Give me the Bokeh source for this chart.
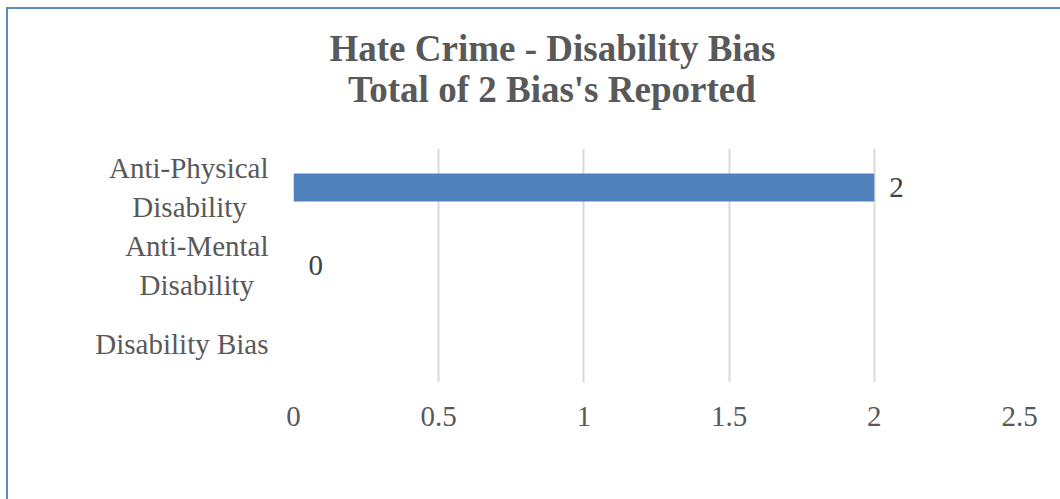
from bokeh.plotting import figure
from bokeh.models import ColumnDataSource, FactorRange, Range1d, LabelSet, FixedTicker, Title
from bokeh.embed import file_html
from bokeh.resources import INLINE

NB = "\u00a0"
categories = ["Anti-Physical\n" + NB * 3 + "Disability" + NB * 3,
              "Anti-Mental\n" + NB * 2 + "Disability" + NB * 2,
              "Disability Bias"]
values = [2, 0, None]
value_labels = ["2", "0", ""]
x_ticks = [0, 0.5, 1, 1.5, 2, 2.5]
title_lines = ["Hate Crime - Disability Bias", "Total of 2 Bias's Reported"]

FONT = "Liberation Serif"
W, H = 1054, 492

p = figure(width=W, height=H, output_backend="svg", toolbar_location=None,
           y_range=FactorRange(factors=list(reversed(categories))),
           x_range=Range1d(0, 2.5),
           min_border_left=285, min_border_right=43, min_border_top=139, min_border_bottom=119,
           styles={"margin-left": "6px", "margin-top": "7px",
                   "border-left": "2px solid #5B8BC9", "border-top": "2px solid #5B8BC9",
                   "box-sizing": "border-box"})
p.outline_line_color = None
p.background_fill_color = "white"
p.border_fill_color = "white"

src = ColumnDataSource(dict(cat=categories[:2], val=values[:2], lab=value_labels[:2]))
p.hbar(y="cat", right="val", left=0, height=0.36, source=src,
       fill_color="#4F81BD", line_color=None)

p.add_layout(LabelSet(x="val", y="cat", text="lab", source=src, x_offset=15,
                      text_baseline="middle", text_align="left",
                      text_font=FONT, text_font_size="29px", text_color="#404040"))

p.xaxis.ticker = FixedTicker(ticks=x_ticks)
p.xaxis.axis_line_color = None
p.xaxis.major_tick_line_color = None
p.xaxis.minor_tick_line_color = None
p.xaxis.major_label_text_font = FONT
p.xaxis.major_label_text_font_size = "29px"
p.xaxis.major_label_text_color = "#595959"
p.xaxis.major_label_standoff = 18

p.yaxis.axis_line_color = None
p.yaxis.major_tick_line_color = None
p.yaxis.major_label_text_font = FONT
p.yaxis.major_label_text_font_size = "29px"
p.yaxis.major_label_text_color = "#595959"
p.yaxis.major_label_standoff = 19

p.xgrid.grid_line_color = "#D9D9D9"
p.xgrid.grid_line_width = 2
p.ygrid.grid_line_color = None

# spacer between the title block and the plot area
p.add_layout(Title(text=NB, text_font_size="1px", standoff=36, text_color="white"), "above")
p.add_layout(Title(text=title_lines[0] + "\n" + NB * 2 + title_lines[1],
                   align="left", offset=36, standoff=0,
                   text_font=FONT, text_font_size="37px", text_font_style="bold",
                   text_color="#595959"), "above")

open("out.html", "w").write(file_html(p, INLINE))
